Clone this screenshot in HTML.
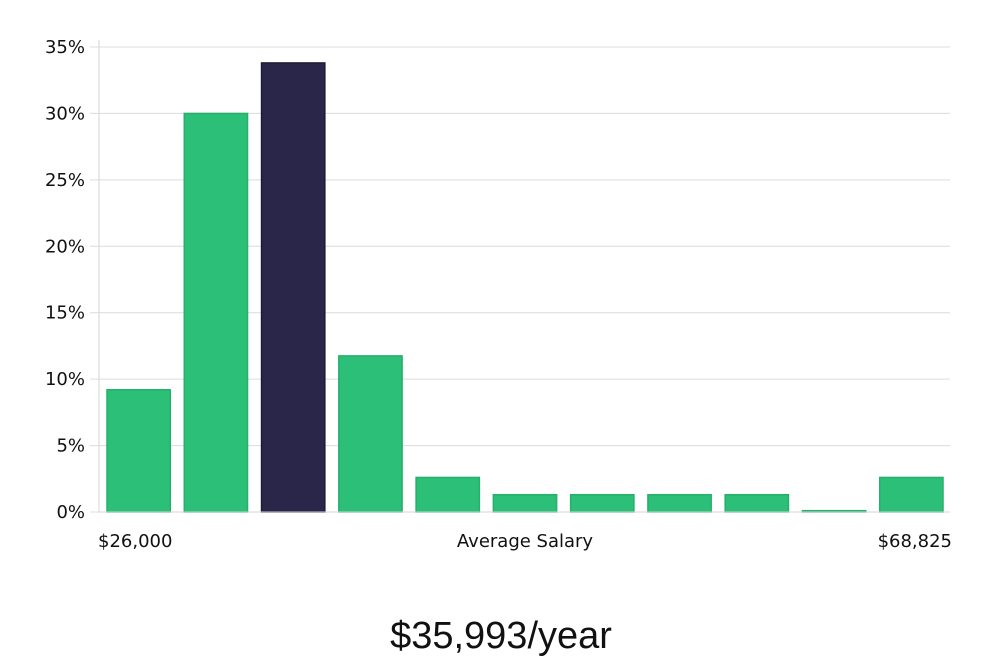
<!DOCTYPE html>
<html><head><meta charset="utf-8"><style>
html,body{margin:0;padding:0;background:#fff;}
svg{display:block;}
</style></head><body>
<svg id="chart" width="1000" height="660" viewBox="0 0 1000 660" font-family="'DejaVu Sans', sans-serif">
<g id="grid"></g>
<g id="yticks"></g>
<g id="bars"></g>
<line x1="99" y1="40" x2="99" y2="512" stroke="#d6d6d6" stroke-width="1"/>
<line x1="99" y1="512" x2="950" y2="512" stroke="#d6d6d6" stroke-width="1"/>
<text x="98" y="547" font-size="18" fill="#111">$26,000</text>
<text x="525" y="547" font-size="18" fill="#111" text-anchor="middle">Average Salary</text>
<text x="952" y="547" font-size="18" fill="#111" text-anchor="end">$68,825</text>
<text x="501" y="648" font-size="38" fill="#111" text-anchor="middle" font-family="'Liberation Sans', sans-serif">$35,993/year</text>
</svg>
<script>
const binLabels = ["b1","b2","b3","b4","b5","b6","b7","b8","b9","b10","b11"];
const binValues = [9.2, 30.0, 33.8, 11.75, 2.6, 1.3, 1.3, 1.3, 1.3, 0.1, 2.6];
const highlightIndex = 2;
const yTicks = [0,5,10,15,20,25,30,35];
const yTickLabels = ["0%","5%","10%","15%","20%","25%","30%","35%"];

const NS = "http://www.w3.org/2000/svg";
const plotL = 100, plotR = 950, y0 = 512, yTop = 47, yMax = 35;
function yScale(v){ return y0 - (v / yMax) * (y0 - yTop); }
const slot = (plotR - plotL) / binValues.length;
function xScale(i){ return plotL + i * slot; }

const grid = document.getElementById('grid');
const yt = document.getElementById('yticks');
yTicks.forEach((t, i) => {
  const y = yScale(t);
  const l = document.createElementNS(NS, 'line');
  l.setAttribute('x1', 90); l.setAttribute('x2', plotR);
  l.setAttribute('y1', y); l.setAttribute('y2', y);
  l.setAttribute('stroke', '#dcdcdc'); l.setAttribute('stroke-width', 1);
  
  
  grid.appendChild(l);
  const tx = document.createElementNS(NS, 'text');
  tx.setAttribute('x', 85); tx.setAttribute('y', y + 6);
  tx.setAttribute('font-size', 18); tx.setAttribute('fill', '#111');
  tx.setAttribute('text-anchor', 'end');
  tx.textContent = yTickLabels[i];
  
  
  yt.appendChild(tx);
});

const bars = document.getElementById('bars');
binValues.forEach((v, i) => {
  const r = document.createElementNS(NS, 'rect');
  const x = xScale(i) + 7, w = slot - 14;
  const y = yScale(v);
  r.setAttribute('x', x); r.setAttribute('width', w);
  r.setAttribute('y', y); r.setAttribute('height', Math.max(1, y0 - y));
  const hl = i === highlightIndex;
  r.setAttribute('fill', hl ? '#29264a' : '#2bbf78');
  r.setAttribute('stroke', hl ? '#1c1a3a' : '#25b06c');
  r.setAttribute('stroke-width', 1.5);
  
  
  bars.appendChild(r);
});
</script>
</body></html>
